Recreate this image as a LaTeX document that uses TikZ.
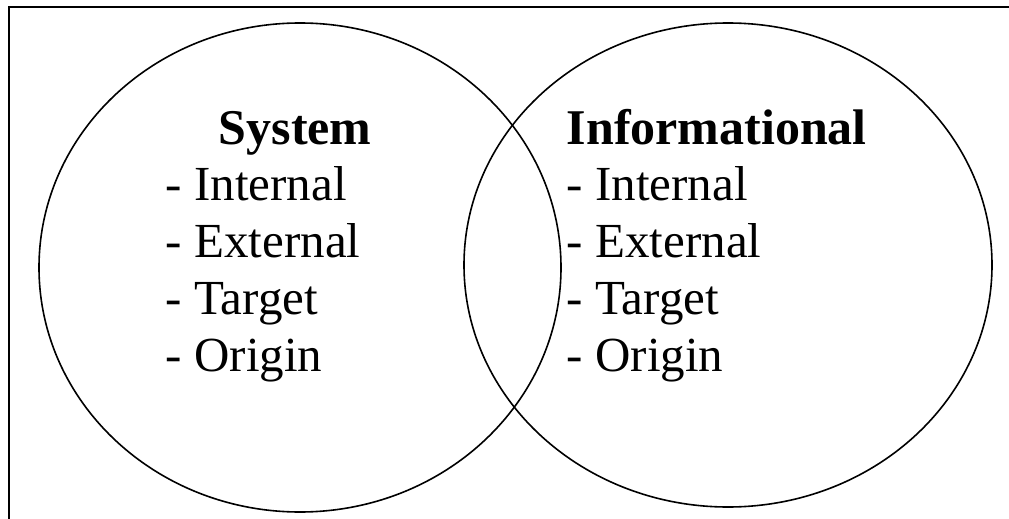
\documentclass[tikz,border=0pt]{standalone}
\usepackage{fontspec}
\setmainfont{Liberation Serif}
\begin{document}
\begin{tikzpicture}[x=1pt,y=-1pt,line width=1.6pt,
  txt/.style={anchor=base west,inner sep=0pt,font=\fontsize{49}{56}\selectfont},
  ttl/.style={anchor=base west,inner sep=0pt,font=\fontsize{50}{56}\selectfont\bfseries}]
\useasboundingbox (0,0) rectangle (1009,519);
\clip (0,0) rectangle (1009,519);
\coordinate (tl) at (9,7);
\coordinate (tr) at (1015,7);
\coordinate (bl) at (9,525);
\draw[line width=2.2pt] (tr) -- (tl) -- (bl);
\coordinate (lc) at (300,267.5);
\coordinate (rc) at (728,265);
\draw (lc) ellipse [x radius=261, y radius=244.5];
\draw (rc) ellipse [x radius=264, y radius=242];
\node[ttl] (sys) at (218,144) {System};
\node[txt] (s1) at (165,200) {- Internal};
\node[txt] (s2) at (165,257) {- External};
\node[txt] (s3) at (165,314) {- Target};
\node[txt] (s4) at (165,371) {- Origin};
\node[ttl] (inf) at (566,144) {Informational};
\node[txt] (i1) at (566,200) {- Internal};
\node[txt] (i2) at (566,257) {- External};
\node[txt] (i3) at (566,314) {- Target};
\node[txt] (i4) at (566,371) {- Origin};
\end{tikzpicture}
\end{document}
